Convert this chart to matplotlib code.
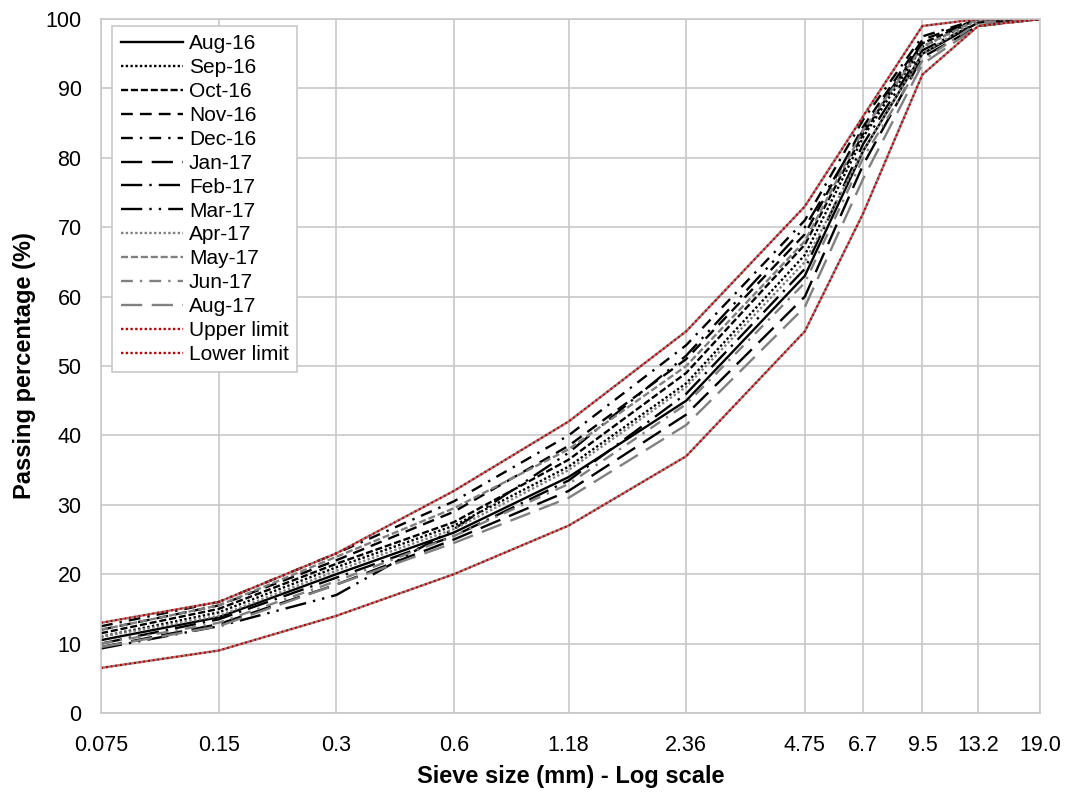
import matplotlib
matplotlib.use("Agg")
import matplotlib.pyplot as plt

plt.rcParams['font.family'] = ['Liberation Sans', 'DejaVu Sans']

# sieve sizes (mm) and passing percentages
sieve = [0.075, 0.15, 0.3, 0.6, 1.18, 2.36, 4.75, 6.7, 9.5, 13.2, 19.0]
sieve_labels = ["0.075", "0.15", "0.3", "0.6", "1.18", "2.36", "4.75", "6.7", "9.5", "13.2", "19.0"]

aug16 = [10.5, 13.8, 20.0, 26.0, 34.0, 45.0, 63.0, 81.0, 95.0, 99.5, 100]
sep16 = [11.0, 14.5, 21.0, 27.0, 35.5, 47.5, 66.0, 83.0, 96.0, 100, 100]
oct16 = [11.5, 15.0, 21.5, 27.5, 36.5, 49.0, 67.5, 83.5, 96.5, 100, 100]
nov16 = [12.0, 15.5, 22.0, 29.0, 38.5, 51.0, 69.0, 84.5, 97.0, 100, 100]
dec16 = [12.5, 16.0, 23.0, 30.5, 40.0, 53.0, 71.0, 85.5, 97.5, 100, 100]
jan17 = [9.5, 12.8, 18.5, 25.0, 32.0, 43.0, 60.0, 79.0, 94.5, 99.0, 100]
feb17 = [10.0, 13.5, 19.5, 25.5, 33.5, 46.0, 64.0, 82.0, 95.5, 99.5, 100]
mar17 = [9.3, 12.5, 17.0, 26.5, 37.5, 51.5, 70.0, 84.0, 96.5, 100, 100]
apr17 = [11.0, 14.0, 20.5, 26.5, 35.0, 47.0, 65.0, 81.0, 95.0, 100, 100]
may17 = [12.0, 15.5, 22.5, 29.5, 38.0, 50.0, 68.0, 84.0, 96.0, 100, 100]
jun17 = [10.0, 13.0, 19.0, 25.5, 33.0, 44.5, 62.0, 80.0, 94.0, 99.5, 100]
aug17 = [9.5, 12.5, 18.5, 24.5, 31.0, 41.5, 58.5, 77.0, 93.5, 99.0, 100]
upper = [13, 16, 23, 32, 42, 55, 73, 86, 99, 100, 100]
lower = [6.5, 9, 14, 20, 27, 37, 55, 72, 92, 99, 100]

grey = '#808080'
series = [
    ("Aug-16", aug16, 'black', '-'),
    ("Sep-16", sep16, 'black', (0, (1, 1))),
    ("Oct-16", oct16, 'black', (0, (3, 1.2))),
    ("Nov-16", nov16, 'black', (0, (5, 3))),
    ("Dec-16", dec16, 'black', (0, (5, 3, 1, 3))),
    ("Jan-17", jan17, 'black', (0, (9, 4))),
    ("Feb-17", feb17, 'black', (0, (9, 3, 1, 3))),
    ("Mar-17", mar17, 'black', (0, (9, 3, 1, 3, 1, 3))),
    ("Apr-17", apr17, grey, (0, (1, 1))),
    ("May-17", may17, grey, (0, (3, 1.2))),
    ("Jun-17", jun17, grey, (0, (5, 3, 1, 3))),
    ("Aug-17", aug17, grey, (0, (9, 4))),
]

fig = plt.figure(figsize=(10.67, 7.94), dpi=100)
ax = fig.add_axes([0.0947, 0.102, 0.88, 0.874])

for name, vals, col, ls in series:
    ax.plot(sieve, vals, color=col, linestyle=ls, linewidth=1.7, label=name)

# limits: red dots over a grey line, as in the source
for name, vals in (("Upper limit", upper), ("Lower limit", lower)):
    ax.plot(sieve, vals, color=grey, linestyle=(1, (1, 1)), linewidth=1.7)
    ax.plot(sieve, vals, color='#C00000', linestyle=(0, (1, 1)), linewidth=1.7, label=name)

ax.set_xscale('log')
ax.set_xlim(0.075, 19.0)
ax.set_ylim(0, 100)
ax.set_xticks(sieve)
ax.set_xticklabels(sieve_labels)
ax.minorticks_off()
ax.set_yticks(range(0, 101, 10))
ax.tick_params(axis='both', length=0, labelsize=15.5)
ax.tick_params(axis='x', pad=16)
ax.tick_params(axis='y', pad=14)
ax.grid(True, color='#C8C8C8', linewidth=1.2)
ax.set_axisbelow(True)
for sp in ax.spines.values():
    sp.set_color('#C8C8C8')
    sp.set_linewidth(1.2)

ax.set_xlabel("Sieve size (mm) - Log scale", fontsize=17, fontweight='bold', labelpad=6)
ax.set_ylabel("Passing percentage (%)", fontsize=17, fontweight='bold', labelpad=7)

leg = ax.legend(loc='upper left', bbox_to_anchor=(0.012, 0.99), borderaxespad=0,
                fontsize=15, handlelength=3.0, handletextpad=0.28, labelspacing=0.235,
                borderpad=0.4, fancybox=False, framealpha=1)
leg.get_frame().set_edgecolor('#C8C8C8')
leg.get_frame().set_linewidth(1.2)

fig.savefig("out.png", dpi=100)
